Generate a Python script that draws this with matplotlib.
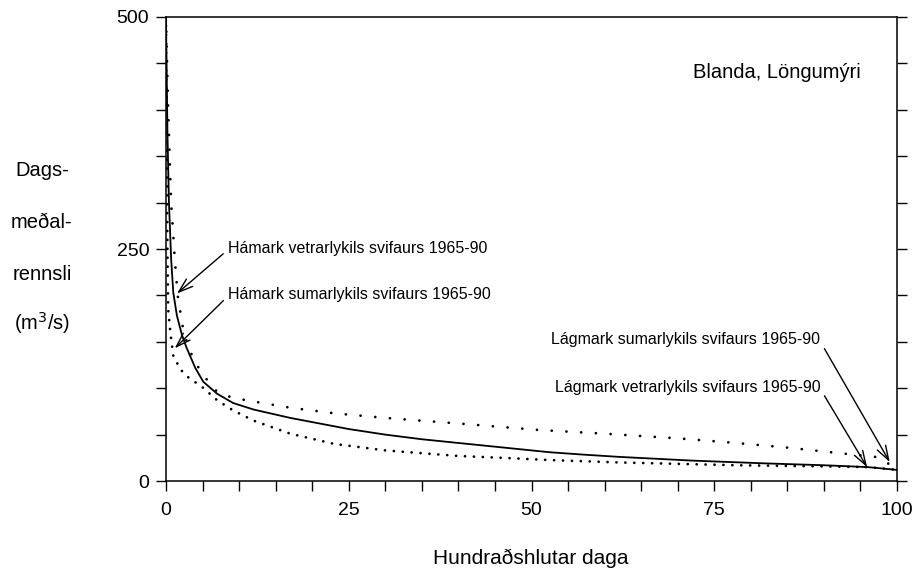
import matplotlib
matplotlib.use("Agg")
import matplotlib.pyplot as plt
from matplotlib.ticker import MultipleLocator

plt.rcParams["font.family"] = ["Liberation Sans", "DejaVu Sans"]

# Rennslislengdarferlar, Blanda við Löngumýri
pct_mean = [0, 0.2, 0.4, 0.7, 1.0, 1.5, 2.2, 2.8, 4.0, 5.1, 7.0, 9.2, 12, 17,
            20, 25, 30, 35, 40, 45, 52.5, 57, 62, 72, 82, 90, 96, 100]
q_mean = [500, 375, 302, 240, 203, 178, 157, 144, 122, 107, 94, 84, 77, 68,
          63.5, 56, 50, 45, 41, 37, 31, 28.5, 26, 22, 19, 17, 15, 12]

pct_upper = [0, 0.3, 0.7, 1.2, 1.6, 2.3, 3.0, 4.0, 5.1, 7, 9, 11, 17, 23, 30,
             40, 51, 60, 70, 78, 85, 91, 97, 100]
q_upper = [500, 400, 300, 240, 200, 166, 145, 128, 114, 96, 90, 87, 79, 73, 68,
           62, 55, 51, 46, 41, 36, 31, 26, 14]

pct_lower = [0, 0.1, 0.2, 0.3, 0.6, 1.0, 2.0, 3.0, 5.0, 7.0, 9.2, 12, 17, 23,
             30, 40, 46, 52.5, 62, 70, 78, 88, 96, 100]
q_lower = [500, 350, 250, 185, 160, 135, 120, 112, 101, 87, 76, 65, 51, 40,
           33, 27, 25, 22.6, 20, 18.5, 17, 16, 15, 12]

# (texti, oddur örvar, staðsetning texta, lárétt jöfnun)
notes = [
    ("Hámark vetrarlykils svifaurs 1965-90", (1.5, 202), (8.5, 251), "left"),
    ("Hámark sumarlykils svifaurs 1965-90", (1.2, 143), (8.5, 201), "left"),
    ("Lágmark sumarlykils svifaurs 1965-90", (99.0, 20.5), (89.5, 152), "right"),
    ("Lágmark vetrarlykils svifaurs 1965-90", (95.9, 15), (89.5, 101), "right"),
]

fig = plt.figure(figsize=(9.16, 5.70), dpi=100)
ax = fig.add_axes([0.1812, 0.1561, 0.7981, 0.8141])

ax.plot(pct_mean, q_mean, color="black", lw=1.3)
ax.plot(pct_upper, q_upper, color="black", lw=2.0,
        linestyle=(0, (0.01, 5.3)), dash_capstyle="round")
ax.plot(pct_lower, q_lower, color="black", lw=2.0,
        linestyle=(0, (0.01, 3.2)), dash_capstyle="round")

for txt, tip, pos, ha in notes:
    rel = (0, 0.4) if ha == "left" else (1, 0.4)
    ax.annotate(txt, xy=tip, xytext=pos, ha=ha, va="center", fontsize=11.5,
                arrowprops=dict(arrowstyle="->,head_length=0.9,head_width=0.3",
                                color="black", lw=1.0, relpos=rel,
                                shrinkA=2, shrinkB=0))

ax.text(95, 440, "Blanda, Löngumýri", ha="right", va="center", fontsize=14.5)

ax.set_xlim(0, 100)
ax.set_ylim(0, 500)
ax.xaxis.set_major_locator(MultipleLocator(25))
ax.xaxis.set_minor_locator(MultipleLocator(5))
ax.yaxis.set_major_locator(MultipleLocator(250))
ax.yaxis.set_minor_locator(MultipleLocator(50))
ax.tick_params(which="both", direction="out", length=7, width=1.0,
               labelsize=14, right=True, colors="black")
ax.tick_params(axis="x", pad=8)
ax.tick_params(axis="y", pad=5)
for s in ax.spines.values():
    s.set_linewidth(1.1)

fig.text(531 / 916, 1 - 558 / 570, "Hundraðshlutar daga", ha="center",
         va="center", fontsize=15)

ylab = ["Dags-", "meðal-", "rennsli", "(m$^3$/s)"]
ylab_y = [170, 222, 275, 323]
for line, yp in zip(ylab, ylab_y):
    fig.text(42 / 916, 1 - yp / 570, line, ha="center", va="center",
             fontsize=14.5)

fig.savefig("out.png", dpi=100)
